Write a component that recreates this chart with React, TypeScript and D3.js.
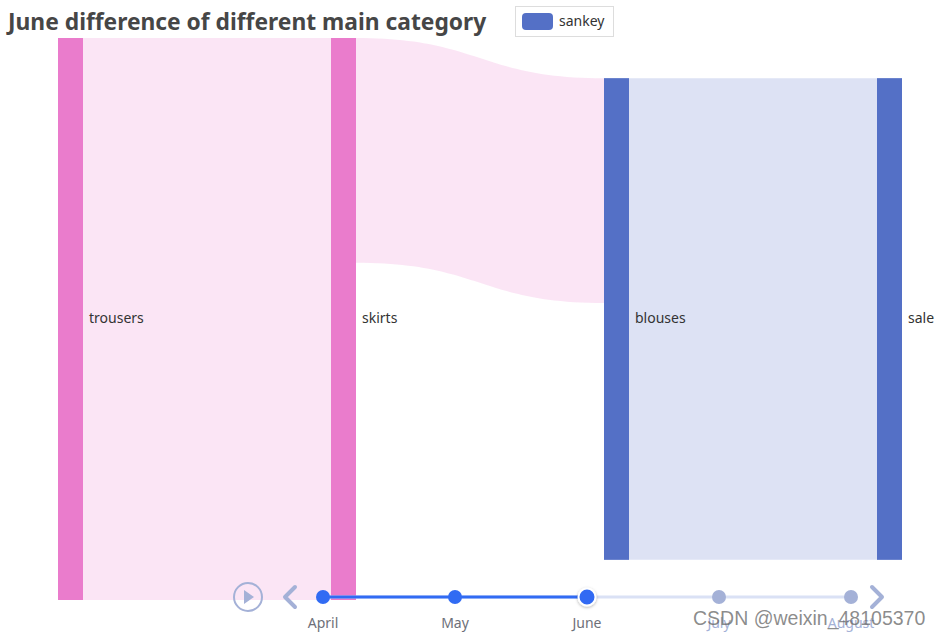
import React from "react";
import * as d3 from "d3";

const nodeNames = ["trousers", "skirts", "blouses", "sale"];
const nodeColors = ["#ea7ccc", "#ea7ccc", "#5470c6", "#5470c6"];
const linkSources = ["trousers", "skirts", "blouses"];
const linkTargets = ["skirts", "blouses", "sale"];
const linkValues = [35, 14, 30];
const months = ["April", "May", "June", "July", "August"];
const currentMonth = 2;
const titleText = "June difference of different main category";

const W = 941, H = 637;
const top = 38, bottom = 600, left = 58, right = 902, nodeW = 25;

export default function App() {
  const nodeValue = nodeNames.map((n) => {
    const inV = d3.sum(linkValues.filter((_, i) => linkTargets[i] === n));
    const outV = d3.sum(linkValues.filter((_, i) => linkSources[i] === n));
    return Math.max(inV, outV);
  });
  const ky = d3.scaleLinear().domain([0, d3.max(nodeValue)!]).range([0, bottom - top]);
  const xs = d3.scaleLinear().domain([0, nodeNames.length - 1]).range([left, right - nodeW]);
  const center = (top + bottom) / 2;
  const nodes = nodeNames.map((n, i) => {
    const h = ky(nodeValue[i]);
    return { name: n, x: xs(i), y: center - h / 2, h, color: nodeColors[i], outOff: 0, inOff: 0 };
  });
  const byName = (n: string) => nodes.find((d) => d.name === n)!;
  const links = linkValues.map((v, i) => {
    const s = byName(linkSources[i]);
    const t = byName(linkTargets[i]);
    const h = ky(v);
    const sy = s.y + s.outOff;
    const ty = t.y + t.inOff;
    s.outOff += h;
    t.inOff += h;
    const x0 = s.x + nodeW, x1 = t.x, xm = (x0 + x1) / 2;
    const p = d3.path();
    p.moveTo(x0, sy);
    p.bezierCurveTo(xm, sy, xm, ty, x1, ty);
    p.lineTo(x1, ty + h);
    p.bezierCurveTo(xm, ty + h, xm, sy + h, x0, sy + h);
    p.closePath();
    return { d: p.toString(), color: s.color };
  });

  const tx = d3.scalePoint<string>().domain(months).range([323, 851]);
  const ty = 597;
  const cx = tx(months[currentMonth])!;
  const font = "'Noto Sans', 'Open Sans', sans-serif";

  return (
    <div style={{ position: "absolute", left: 0, top: 0 }}>
      <svg width={W} height={H} style={{ display: "block" }} fontFamily={font}>
        <defs>
          <filter id="sh" x="-50%" y="-50%" width="200%" height="200%">
            <feDropShadow dx="0" dy="1" stdDeviation="1.5" floodColor="#000" floodOpacity="0.3" />
          </filter>
        </defs>
        <rect width={W} height={H} fill="#fff" />
        {links.map((l, i) => (
          <path key={i} d={l.d} fill={l.color} fillOpacity={0.2} />
        ))}
        {nodes.map((n) => (
          <g key={n.name}>
            <rect x={n.x} y={n.y} width={nodeW} height={n.h} fill={n.color} />
            <text x={n.x + nodeW + 6} y={center - 1} dy="0.35em" fontSize={14} fill="#333">
              {n.name}
            </text>
          </g>
        ))}
        <text x={8} y={30} fontSize={22.8} fontWeight="bold" fill="#464646">
          {titleText}
        </text>
        <rect x={515.5} y={6.5} width={98} height={30} fill="#fff" stroke="#ddd" strokeWidth={1} />
        <rect x={522} y={13} width={31} height={17} rx={4} fill="#5470c6" />
        <text x={559} y={21.5} dy="0.35em" fontSize={14} fill="#333">sankey</text>

        {/* timeline */}
        <line x1={tx(months[0])} x2={tx(months[months.length - 1])} y1={ty} y2={ty} stroke="#dae1f5" strokeWidth={3} />
        <line x1={tx(months[0])} x2={cx} y1={ty} y2={ty} stroke="#316bf3" strokeWidth={3} />
        <circle cx={248} cy={ty} r={14} fill="none" stroke="#a4b1d7" strokeWidth={2} />
        <path d={`M244,${ty - 7} L254,${ty} L244,${ty + 7} Z`} fill="#a4b1d7" />
        <path d={`M295,${ty - 10} L285,${ty} L295,${ty + 10}`} fill="none" stroke="#a4b1d7" strokeWidth={4} strokeLinecap="round" strokeLinejoin="round" />
        <path d={`M872,${ty - 10} L882,${ty} L872,${ty + 10}`} fill="none" stroke="#a4b1d7" strokeWidth={4} strokeLinecap="round" strokeLinejoin="round" />
        {months.map((m, i) => {
          const x = tx(m)!;
          const done = i <= currentMonth;
          return (
            <g key={m}>
              {i === currentMonth ? (
                <circle cx={x} cy={ty} r={8.5} fill="#316bf3" stroke="#fff" strokeWidth={2} filter="url(#sh)" />
              ) : (
                <circle cx={x} cy={ty} r={7} fill={done ? "#316bf3" : "#a4b1d7"} />
              )}
              <text x={x} y={623} dy="0.35em" textAnchor="middle" fontSize={14} fill={done ? "#6e7079" : "#a4b1d7"}>
                {m}
              </text>
            </g>
          );
        })}
        <text x={693} y={618} dy="0.35em" fontSize={19.5} fill="#666" fillOpacity={0.75} fontFamily="'Liberation Sans', Arial, sans-serif">
          CSDN @weixin_48105370
        </text>
      </svg>
    </div>
  );
}
